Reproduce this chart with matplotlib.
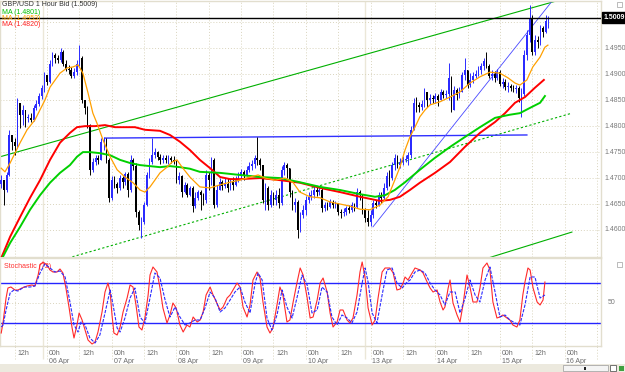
import numpy as np
import matplotlib
matplotlib.use('Agg')
import matplotlib.pyplot as plt
from matplotlib.patches import Rectangle
import matplotlib.transforms as mtransforms

# ---- hourly GBP/USD bars (bar 0 = 03 Apr 14h, bar 17 = 06 Apr 00h) ----
first_open = 1.4688
close = [1.4696, 1.4677, 1.4706, 1.4783, 1.4770, 1.4762, 1.4845, 1.4822, 1.4831, 1.4816,
         1.4816, 1.4812, 1.4835, 1.4843, 1.4858, 1.4874, 1.4899, 1.4885, 1.4920, 1.4937,
         1.4931, 1.4927, 1.4943, 1.4920, 1.4910, 1.4908, 1.4897, 1.4904, 1.4920, 1.4931,
         1.4850, 1.4835, 1.4802, 1.4716, 1.4731, 1.4739, 1.4735, 1.4770, 1.4773, 1.4735,
         1.4662, 1.4696, 1.4689, 1.4681, 1.4700, 1.4692, 1.4708, 1.4677, 1.4735, 1.4723,
         1.4635, 1.4610, 1.4615, 1.4648, 1.4706, 1.4731, 1.4744, 1.4750, 1.4741, 1.4735,
         1.4739, 1.4735, 1.4739, 1.4735, 1.4731, 1.4696, 1.4704, 1.4673, 1.4687, 1.4667,
         1.4681, 1.4646, 1.4662, 1.4673, 1.4667, 1.4658, 1.4706, 1.4696, 1.4735, 1.4648,
         1.4677, 1.4692, 1.4685, 1.4689, 1.4681, 1.4692, 1.4687, 1.4696, 1.4704, 1.4712,
         1.4706, 1.4716, 1.4723, 1.4727, 1.4739, 1.4735, 1.4725, 1.4658, 1.4681, 1.4648,
         1.4667, 1.4658, 1.4667, 1.4652, 1.4716, 1.4725, 1.4719, 1.4673, 1.4648, 1.4654,
         1.4600, 1.4629, 1.4639, 1.4658, 1.4664, 1.4667, 1.4677, 1.4673, 1.4677, 1.4642,
         1.4648, 1.4644, 1.4654, 1.4648, 1.4652, 1.4635, 1.4633, 1.4635, 1.4642, 1.4639,
         1.4648, 1.4644, 1.4673, 1.4667, 1.4639, 1.4623, 1.4615, 1.4629, 1.4652, 1.4648,
         1.4667, 1.4662, 1.4681, 1.4704, 1.4700, 1.4725, 1.4739, 1.4725, 1.4731, 1.4735,
         1.4737, 1.4744, 1.4793, 1.4845, 1.4841, 1.4837, 1.4843, 1.4866, 1.4850, 1.4854,
         1.4852, 1.4858, 1.4850, 1.4866, 1.4860, 1.4862, 1.4893, 1.4831, 1.4870, 1.4860,
         1.4866, 1.4899, 1.4908, 1.4879, 1.4889, 1.4897, 1.4900, 1.4908, 1.4916, 1.4926,
         1.4916, 1.4897, 1.4900, 1.4893, 1.4904, 1.4881, 1.4885, 1.4875, 1.4877, 1.4874,
         1.4872, 1.4874, 1.4854, 1.4862, 1.4937, 1.4976, 1.5008, 1.4943, 1.4966, 1.4962,
         1.4989, 1.4981, 1.5003, 1.5009]
high = [1.4706, 1.4696, 1.4712, 1.4793, 1.4783, 1.4777, 1.4854, 1.4841, 1.4841, 1.4827,
        1.4823, 1.4825, 1.4841, 1.4850, 1.4864, 1.4879, 1.4904, 1.4897, 1.4927, 1.4943,
        1.4941, 1.4937, 1.4951, 1.4947, 1.4927, 1.4918, 1.4914, 1.4912, 1.4927, 1.4956,
        1.4935, 1.4850, 1.4839, 1.4804, 1.4739, 1.4744, 1.4744, 1.4777, 1.4779, 1.4777,
        1.4739, 1.4704, 1.4704, 1.4692, 1.4706, 1.4704, 1.4712, 1.4712, 1.4744, 1.4739,
        1.4729, 1.4639, 1.4625, 1.4654, 1.4712, 1.4739, 1.4777, 1.4758, 1.4752, 1.4746,
        1.4744, 1.4744, 1.4744, 1.4743, 1.4743, 1.4735, 1.4712, 1.4706, 1.4692, 1.4691,
        1.4685, 1.4685, 1.4673, 1.4677, 1.4677, 1.4671, 1.4716, 1.4712, 1.4741, 1.4739,
        1.4687, 1.4700, 1.4696, 1.4700, 1.4700, 1.4700, 1.4702, 1.4704, 1.4712, 1.4718,
        1.4716, 1.4723, 1.4731, 1.4735, 1.4744, 1.4779, 1.4739, 1.4725, 1.4691, 1.4685,
        1.4677, 1.4673, 1.4677, 1.4681, 1.4723, 1.4731, 1.4729, 1.4706, 1.4677, 1.4662,
        1.4658, 1.4635, 1.4648, 1.4665, 1.4673, 1.4677, 1.4685, 1.4683, 1.4683, 1.4681,
        1.4654, 1.4654, 1.4660, 1.4658, 1.4656, 1.4652, 1.4640, 1.4642, 1.4646, 1.4648,
        1.4654, 1.4652, 1.4681, 1.4677, 1.4667, 1.4642, 1.4639, 1.4639, 1.4658, 1.4658,
        1.4673, 1.4673, 1.4691, 1.4712, 1.4716, 1.4731, 1.4746, 1.4744, 1.4739, 1.4743,
        1.4744, 1.4750, 1.4800, 1.4854, 1.4856, 1.4847, 1.4850, 1.4874, 1.4866, 1.4862,
        1.4860, 1.4864, 1.4862, 1.4872, 1.4870, 1.4870, 1.4922, 1.4897, 1.4877, 1.4874,
        1.4875, 1.4904, 1.4931, 1.4908, 1.4902, 1.4904, 1.4908, 1.4916, 1.4922, 1.4931,
        1.4943, 1.4920, 1.4908, 1.4906, 1.4910, 1.4908, 1.4893, 1.4891, 1.4885, 1.4881,
        1.4879, 1.4879, 1.4877, 1.4874, 1.4947, 1.4985, 1.5033, 1.5014, 1.4976, 1.4974,
        1.4995, 1.4993, 1.5014, 1.5012]
low = [1.4681, 1.4648, 1.4673, 1.4704, 1.4754, 1.4744, 1.4758, 1.4796, 1.4802, 1.4798,
       1.4808, 1.4808, 1.4810, 1.4831, 1.4839, 1.4852, 1.4866, 1.4879, 1.4883, 1.4916,
       1.4922, 1.4922, 1.4924, 1.4916, 1.4906, 1.4900, 1.4893, 1.4893, 1.4899, 1.4916,
       1.4845, 1.4823, 1.4796, 1.4706, 1.4712, 1.4725, 1.4727, 1.4735, 1.4754, 1.4729,
       1.4654, 1.4658, 1.4681, 1.4671, 1.4677, 1.4681, 1.4687, 1.4664, 1.4673, 1.4716,
       1.4625, 1.4600, 1.4585, 1.4612, 1.4646, 1.4700, 1.4727, 1.4739, 1.4735, 1.4727,
       1.4729, 1.4729, 1.4727, 1.4729, 1.4727, 1.4691, 1.4689, 1.4664, 1.4671, 1.4664,
       1.4665, 1.4635, 1.4642, 1.4658, 1.4639, 1.4648, 1.4652, 1.4677, 1.4687, 1.4642,
       1.4644, 1.4677, 1.4677, 1.4681, 1.4673, 1.4677, 1.4677, 1.4685, 1.4692, 1.4696,
       1.4696, 1.4704, 1.4712, 1.4716, 1.4719, 1.4725, 1.4716, 1.4652, 1.4639, 1.4639,
       1.4644, 1.4648, 1.4648, 1.4642, 1.4648, 1.4706, 1.4700, 1.4664, 1.4639, 1.4635,
       1.4585, 1.4596, 1.4623, 1.4629, 1.4652, 1.4658, 1.4662, 1.4665, 1.4667, 1.4635,
       1.4637, 1.4639, 1.4642, 1.4642, 1.4642, 1.4629, 1.4623, 1.4627, 1.4629, 1.4633,
       1.4635, 1.4637, 1.4642, 1.4658, 1.4631, 1.4615, 1.4608, 1.4608, 1.4623, 1.4642,
       1.4646, 1.4652, 1.4658, 1.4677, 1.4685, 1.4696, 1.4716, 1.4719, 1.4719, 1.4725,
       1.4731, 1.4725, 1.4739, 1.4793, 1.4827, 1.4827, 1.4831, 1.4837, 1.4837, 1.4843,
       1.4845, 1.4845, 1.4839, 1.4850, 1.4854, 1.4854, 1.4850, 1.4827, 1.4831, 1.4850,
       1.4854, 1.4866, 1.4889, 1.4874, 1.4875, 1.4883, 1.4893, 1.4897, 1.4900, 1.4908,
       1.4912, 1.4893, 1.4889, 1.4885, 1.4889, 1.4877, 1.4874, 1.4870, 1.4866, 1.4868,
       1.4866, 1.4864, 1.4847, 1.4818, 1.4858, 1.4927, 1.4962, 1.4937, 1.4937, 1.4951,
       1.4956, 1.4972, 1.4979, 1.4989]

# ---- moving averages (bar position, price) ----
ma_fast_x = [0, 1.4, 3.3, 7, 9.6, 12.5, 16.2, 18.1, 21.8, 24.4, 26.6, 28.5, 30.3, 32.2, 34,
             35.5, 37.8, 40.4, 43, 45.9, 48.9, 51.5, 53.3, 55.2, 57, 58.9, 61.5, 63.4, 65.2, 67.1,
             70, 73.7, 77.5, 81.2, 84.9, 88.6, 92.3, 95.3, 97.9, 101.6, 105.3, 108.2, 110.8, 114.5,
             118.3, 122, 125.7, 129.4, 133.1, 136.8, 140.5, 143.5, 146, 147.9, 149.8, 151.6, 153.5,
             155.3, 157.2, 159.1, 162.8, 166.5, 170.2, 173.9, 177.6, 181.3, 185, 188, 190.6, 192.4,
             195, 197.2, 199.9, 201.7, 202.8]
ma_fast = [1.4719, 1.4712, 1.4729, 1.4768, 1.4793, 1.4812, 1.4850, 1.4875, 1.4902, 1.4912,
           1.4914, 1.4918, 1.4902, 1.4864, 1.4825, 1.4806, 1.4773, 1.4741, 1.4716, 1.4702,
           1.4691, 1.4677, 1.4673, 1.4683, 1.4696, 1.4710, 1.4721, 1.4731, 1.4735, 1.4721,
           1.4702, 1.4683, 1.4681, 1.4687, 1.4692, 1.4696, 1.4702, 1.4706, 1.4700, 1.4696,
           1.4700, 1.4692, 1.4673, 1.4664, 1.4662, 1.4654, 1.4650, 1.4646, 1.4640, 1.4639,
           1.4648, 1.4664, 1.4696, 1.4721, 1.4754, 1.4779, 1.4798, 1.4818, 1.4831, 1.4841,
           1.4847, 1.4856, 1.4866, 1.4883, 1.4895, 1.4904, 1.4902, 1.4893, 1.4883, 1.4879,
           1.4889, 1.4914, 1.4933, 1.4952, 1.4956]
ma_mid_x = [0, 3.3, 7, 10.7, 14.4, 18.1, 21.8, 25.5, 28.1, 30.3, 32.9, 36.6, 40.4, 44.1, 47.8,
            51.5, 55.2, 58.9, 62.6, 66.3, 70, 73.7, 81.2, 88.6, 96, 103.4, 110.8, 118.3, 125.7,
            133.1, 138.7, 142.4, 146, 149.8, 155.3, 160.9, 166.5, 172, 177.6, 183.2, 188.7, 192.4,
            196.1, 199.9, 201.7]
ma_mid = [1.4542, 1.4575, 1.4606, 1.4639, 1.4667, 1.4691, 1.4710, 1.4725, 1.4741, 1.4750,
          1.4750, 1.4748, 1.4744, 1.4735, 1.4729, 1.4725, 1.4723, 1.4721, 1.4723, 1.4721,
          1.4718, 1.4712, 1.4710, 1.4706, 1.4702, 1.4700, 1.4692, 1.4683, 1.4677, 1.4669,
          1.4664, 1.4667, 1.4677, 1.4692, 1.4716, 1.4739, 1.4760, 1.4779, 1.4798, 1.4816,
          1.4822, 1.4825, 1.4835, 1.4845, 1.4858]
ma_slow_x = [0, 3.3, 7, 10.7, 14.4, 18.1, 21.8, 25.5, 28.1, 31.1, 34.8, 38.5, 42.2, 45.9, 49.6,
             53.3, 58.9, 62.6, 66.3, 70, 73.7, 77.5, 81.2, 84.9, 88.6, 96, 103.4, 110.8, 118.3,
             125.7, 133.1, 136.8, 140.5, 144.2, 147.9, 151.6, 155.3, 160.9, 166.5, 172, 177.6,
             183.2, 186.9, 190.6, 194.3, 198, 201.3]
ma_slow = [1.4546, 1.4587, 1.4625, 1.4662, 1.4696, 1.4735, 1.4768, 1.4787, 1.4798, 1.4800,
           1.4800, 1.4802, 1.4798, 1.4798, 1.4798, 1.4793, 1.4791, 1.4783, 1.4770, 1.4754,
           1.4735, 1.4719, 1.4702, 1.4698, 1.4698, 1.4700, 1.4696, 1.4691, 1.4681, 1.4673,
           1.4664, 1.4660, 1.4656, 1.4658, 1.4664, 1.4677, 1.4691, 1.4710, 1.4731, 1.4760,
           1.4787, 1.4808, 1.4825, 1.4845, 1.4856, 1.4874, 1.4889]

# ---- stochastic (bar position, value) ----
stoch_k_x = [0, 0.7, 1.8, 2.5, 3.6, 5.1, 6.2, 7.7, 9.6, 11.4, 12.5, 13.7, 14.4, 15.5, 17.0, 18.1,
             19.2, 20.7, 21.8, 22.9, 24.0, 25.2, 26.3, 27.0, 28.1, 28.9, 30.0, 31.1, 32.2, 33.7,
             34.8, 35.9, 37.4, 38.5, 39.6, 40.4, 41.1, 41.8, 43.0, 44.1, 45.2, 46.7, 47.8, 48.9,
             50.0, 51.1, 52.2, 53.3, 54.5, 55.2, 56.3, 57.8, 58.9, 60.0, 61.5, 62.6, 63.7, 64.9,
             66.3, 67.5, 68.9, 70.0, 71.2, 72.7, 73.8,
             74.9, 76.0, 77.5, 78.6, 80.0, 81.2, 82.3, 83.8, 84.9, 86.0,
             87.5, 88.6, 89.7, 91.2, 92.3, 93.4, 94.9, 96.0, 97.1, 98.6,
             99.7, 100.8, 102.3, 103.4, 104.5, 106.0, 107.1, 108.3, 109.7, 110.9,
             112.0, 113.5, 114.6, 115.7, 117.2, 118.3, 119.4, 120.9, 122.0, 123.1,
             124.6, 125.7, 126.8, 128.3, 129.4, 130.5, 132.0, 133.1, 133.9, 135.0,
             136.1, 137.6, 138.7, 139.8, 141.3, 142.4, 144.2, 145.4, 146.8, 148.0,
             149.1, 149.8, 150.9, 152.4, 153.5, 155.4, 156.5, 158.0, 159.1, 160.2,
             161.7, 162.8, 163.9, 164.6, 165.8, 166.5, 167.6, 169.1, 170.2, 171.3,
             172.8, 173.9, 175.0, 176.5, 177.6, 178.7, 180.2, 181.3, 182.4, 183.9,
             185.0, 186.1, 187.6, 188.7, 189.8, 191.3, 192.4, 193.5, 194.3, 195.4,
             196.2, 197.3, 198.8, 199.9, 201.0, 201.7]
stoch_k = [20, 31, 55, 65, 66, 63, 63, 65, 67, 68,
           67, 78, 88, 91, 88, 83, 81, 81, 84, 80,
           65, 45, 25, 15, 28, 40, 33, 23, 13, 9,
           11, 21, 41, 61, 70, 61, 38, 20, 18, 26,
           41, 55, 68, 66, 48, 26, 23, 35, 58, 78,
           86, 81, 65, 45, 30, 38, 50, 45, 28, 21,
           28, 26, 36, 31, 33,
           41, 58, 66, 58, 50, 43, 46, 55, 58, 63,
           70, 66, 46, 36, 48, 73, 81, 75, 51, 26,
           20, 25, 48, 66, 58, 31, 33, 51, 70, 85,
           78, 55, 35, 36, 53, 70, 75, 61, 40, 26,
           31, 43, 43, 33, 30, 35, 58, 81, 91, 75,
           45, 28, 33, 55, 81, 85, 85, 80, 63, 64,
           70, 76, 73, 80, 85, 83, 80, 71, 65, 61,
           63, 51, 43, 46, 65, 73, 50, 38, 31, 48,
           78, 66, 51, 51, 65, 85, 90, 83, 51, 35,
           36, 38, 35, 33, 28, 26, 33, 58, 71, 85,
           83, 65, 51, 48, 53, 71]
stoch_d_x = [0, 0.7, 1.8, 3.3, 4.7, 6.2, 8.5, 10.7, 12.5, 14.4, 16.2, 18.1, 19.9, 21.8, 23.7,
             25.5, 27.0, 28.5, 29.6, 31.1, 32.9, 34.8, 36.6, 38.5, 40.4, 41.5, 43.0, 44.1, 45.9,
             47.8, 49.6, 51.5, 53.3, 55.2, 57.0, 58.9, 60.8, 62.6, 64.5, 66.3, 68.2, 70.0, 71.9,
             73.8, 75.6, 77.5, 79.3, 81.2, 83.0, 84.9, 86.7, 88.6, 90.4, 92.3, 94.2, 95.3, 96.8,
             98.6, 100.4, 102.3, 104.2, 106.0, 107.9, 109.7, 111.6, 113.5, 115.3, 117.2, 119.0,
             120.9, 122.7, 124.6, 126.4, 128.3, 130.1, 132.0, 133.9, 135.0, 136.1, 137.6, 139.4,
             141.3, 143.1, 145.0, 146.8, 148.7, 150.6, 151.7, 153.5, 155.4, 157.2, 159.1, 160.9,
             162.8, 164.6, 166.5, 168.4, 170.2, 172.1, 173.9, 175.8, 177.6, 179.5, 181.3, 183.2,
             185.0, 186.9, 188.7, 190.6, 192.4, 194.3, 196.2, 198.0, 199.9, 201.7]
stoch_d = [26, 28, 43, 60, 63, 62, 66, 66, 67, 80, 89, 85, 81, 82, 76, 51, 28, 21, 31, 28,
           15, 10, 18, 40, 63, 48, 25, 21, 35, 55, 65, 36, 30, 55, 80, 75, 53, 36, 46, 36,
           28, 30, 33, 33, 45, 61, 55, 41, 45, 53, 61, 66, 51, 40, 70, 80, 73, 35, 23, 38,
           63, 46, 35, 55, 78, 68, 40, 43, 66, 61, 36, 28, 38, 35, 30, 41, 70, 85, 71, 40,
           30, 58, 83, 85, 70, 65, 71, 73, 81, 83, 80, 70, 63, 58, 48, 61, 61, 40, 55, 73,
           58, 51, 73, 86, 61, 36, 38, 33, 30, 28, 48, 76, 76, 55, 58]

# ---- drawn trend lines: (bar0, price0, bar1, price1) ----
green_solid = [(-0.45, 1.4741, 207.3, 1.5043), (180.6, 1.4546, 211.7, 1.4596)]
green_dotted = (24.8, 1.4546, 211.7, 1.4825)
blue_level = (38.5, 1.4777, 195.0, 1.4783)
blue_rise = (137.9, 1.4606, 204.7, 1.5043)
last_price = 1.5009

price_levels = [1.4600, 1.4650, 1.4700, 1.4750, 1.4800, 1.4850, 1.4900, 1.4950, 1.5000]
day_labels = ['06 Apr', '07 Apr', '08 Apr', '09 Apr', '10 Apr', '13 Apr', '14 Apr', '15 Apr', '16 Apr']

W, H = 625, 372
GRID = '#d9d4bd'
FONT = 'Liberation Sans'


def fy(py):
    return 1 - py / H


fig = plt.figure(figsize=(W / 100, H / 100), dpi=100)
ax = fig.add_axes([0, fy(257), 601 / W, 256 / H])
ax2 = fig.add_axes([0, fy(346), 601 / W, 88 / H])
ax3 = fig.add_axes([0, fy(364), 601 / W, 18 / H])

xlim = (-0.45, 222.5)
for a in (ax, ax2, ax3):
    a.set_xlim(*xlim)
    a.set_xticks([])
    a.set_yticks([])
    for s in a.spines.values():
        s.set_color('#e2dece')
        s.set_linewidth(1)
ax3.axis('off')
ax.set_ylim(1.4548, 1.5041)
ax2.set_ylim(7, 95)
ax3.set_ylim(0, 1)

# grid
grid_bars = np.arange(5, 222, 12)
week_breaks = [15.5, 135.0]
for a in (ax, ax2):
    for g in grid_bars:
        a.axvline(g, color=GRID, lw=0.7, ls=(0, (1, 2)), zorder=0)
    for g in week_breaks:
        a.axvline(g, color='#ebe7d8', lw=1, zorder=0)
for p in price_levels:
    ax.axhline(p, color=GRID, lw=0.7, ls=(0, (1, 2)), zorder=0)
ax2.axhline(50, color=GRID, lw=0.7, ls=(0, (1, 2)), zorder=0)
ax3.vlines(grid_bars, 0.3, 1, color=GRID, lw=0.7, linestyles=(0, (1, 2)))
ax3.vlines(week_breaks, 0.3, 1, color='#ebe7d8', lw=1)

# candles
o = np.array([first_open] + close[:-1])
c = np.array(close)
hi = np.maximum(np.array(high), np.maximum(o, c))
lo = np.minimum(np.array(low), np.minimum(o, c))
bars = np.arange(len(c))
cols = np.where(c >= o, '#2b2bff', '#000000')
ax.vlines(bars, lo, hi, colors=cols, lw=0.7, zorder=3)
ax.bar(bars, np.maximum(np.abs(c - o), 0.00008), bottom=np.minimum(o, c), width=0.62,
       color=cols, lw=0, zorder=3)

# moving averages
ax.plot(ma_slow_x, ma_slow, color='#ff0000', lw=1.4, zorder=4)
ax.plot(ma_mid_x, ma_mid, color='#00d000', lw=1.4, zorder=4)
ax.plot(ma_fast_x, ma_fast, color='#ffa000', lw=0.9, zorder=5)

# trend lines
for x0, y0, x1, y1 in green_solid:
    ax.plot([x0, x1], [y0, y1], color='#00b000', lw=0.8, zorder=2)
x0, y0, x1, y1 = green_dotted
ax.plot([x0, x1], [y0, y1], color='#00b000', lw=0.8, ls=(0, (2, 2)), zorder=2)
x0, y0, x1, y1 = blue_level
ax.plot([x0, x1], [y0, y1], color='#3030ff', lw=1.0, zorder=2)
x0, y0, x1, y1 = blue_rise
ax.plot([x0, x1], [y0, y1], color='#4848ff', lw=0.6, zorder=2)
ax.axhline(last_price, color='black', lw=1, zorder=6)

# price axis labels
yt = mtransforms.blended_transform_factory(ax.transAxes, ax.transData)
for p in price_levels[:-1]:
    ax.text(1.005, p, '%.4f' % p, transform=yt, ha='left', va='center', fontsize=5,
            color='#7a7a7a', family=FONT, clip_on=False)
ax.text(1.004, last_price, '%.4f' % last_price, transform=yt, ha='left', va='center',
        fontsize=5, color='white', weight='bold', family=FONT, clip_on=False,
        bbox=dict(facecolor='black', edgecolor='black', pad=1.2))

# title / legend text
fig.text(2 / W, fy(5), 'GBP/USD 1 Hour Bid (1.5009)', fontsize=5, color='#303030',
         family=FONT, va='center')
fig.text(2 / W, fy(12), 'MA (1.4801)', fontsize=5, color='#00c000', family=FONT, va='center')
fig.text(2 / W, fy(18.5), 'MA (1.4953)', fontsize=5, color='#ffa000', family=FONT, va='center')
fig.text(2 / W, fy(25), 'MA (1.4820)', fontsize=5, color='#ff2020', family=FONT, va='center')

# stochastic panel
ax2.axhline(70, color='#2424ff', lw=1, zorder=2)
ax2.axhline(30, color='#2424ff', lw=1, zorder=2)
ax2.plot(stoch_k_x, stoch_k, color='#ff2a2a', lw=0.8, zorder=4)
ax2.plot(stoch_d_x, stoch_d, color='#2a2aff', lw=0.8, ls=(0, (3, 1.2)), zorder=5)
ax2.text(4 / 601, 0.9, 'Stochastic (72)', transform=ax2.transAxes, fontsize=5,
         color='#ff3030', family=FONT, va='center')
ax2.text(1.012, 50, '50', transform=mtransforms.blended_transform_factory(ax2.transAxes, ax2.transData),
         fontsize=5, color='#7a7a7a', family=FONT, va='center', clip_on=False)

# time axis labels
for d, lab in enumerate(day_labels):
    b = 17 + 24 * d
    ax3.text(b + 0.7, 0.6, '00h', fontsize=5, color='#6a6a6a', family=FONT, va='center')
    ax3.text(b + 0.7, 0.16, lab, fontsize=5, color='#6a6a6a', family=FONT, va='center')
for d in range(0, 9):
    b = 5 + 24 * d
    ax3.text(b + 1.0, 0.6, '12h', fontsize=5, color='#6a6a6a', family=FONT, va='center')

# bottom scroll strip and small window icons
fig.patches.append(Rectangle((0, 0), 1, 8 / H, transform=fig.transFigure,
                             facecolor='#ece9de', edgecolor='none'))
fig.patches.append(Rectangle((563 / W, 1 / H), 45 / W, 6 / H, transform=fig.transFigure,
                             facecolor='#f4f4f4', edgecolor='#9a9a9a', lw=0.5))
fig.patches.append(Rectangle((584 / W, 2.5 / H), 2 / W, 3 / H, transform=fig.transFigure,
                             facecolor='#202020', edgecolor='none'))
fig.patches.append(Rectangle((610 / W, 1 / H), 6 / W, 6 / H, transform=fig.transFigure,
                             facecolor='white', edgecolor='#404040', lw=0.5))
fig.patches.append(Rectangle((619 / W, 1.5 / H), 5 / W, 5 / H, transform=fig.transFigure,
                             facecolor='#40a040', edgecolor='none'))
for yy in (7, 267):
    fig.patches.append(Rectangle((617 / W, fy(yy)), 5 / W, 5 / H, transform=fig.transFigure,
                                 facecolor='white', edgecolor='#a0a0a0', lw=0.5))

fig.savefig('out.png', dpi=100)
